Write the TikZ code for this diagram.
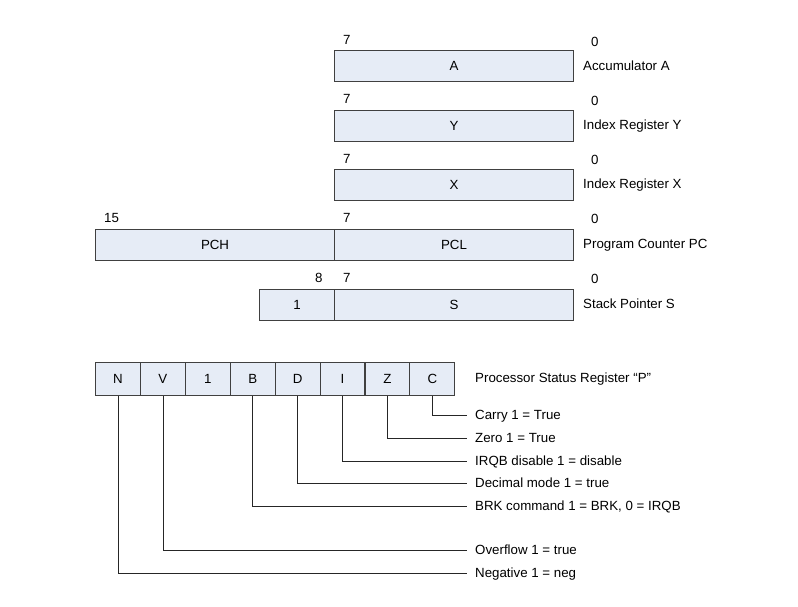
\documentclass[tikz,border=0pt]{standalone}
\usepackage{fontspec}
\setmainfont{Liberation Sans}
\definecolor{regfill}{HTML}{E6ECF6}
\definecolor{regline}{HTML}{404040}
\begin{document}
\begin{tikzpicture}[x=1pt,y=-1pt,
  every node/.style={font=\fontsize{13.3}{15}\selectfont},
  reg/.style={draw=regline, line width=1.1pt, fill=regfill, inner sep=0pt,
    minimum height=31pt, anchor=north west},
  bit/.style={reg, minimum width=44.9pt, minimum height=33pt},
  bitnum/.style={inner sep=0pt, anchor=west},
  regname/.style={inner sep=0pt, anchor=west},
  flag/.style={inner xsep=8pt, inner ysep=0pt, text depth=0pt, anchor=west},
  lead/.style={draw=black!85, line width=0.8pt}]
	%%%%% START %%%%%
	\useasboundingbox (0,0) rectangle (798,606);
	
	% 8 bit registers
	\node[reg, minimum width=239pt] (A) at (334,50) {A};
	\node[bitnum] (a7) at (343,40) {7};
	\node[bitnum] (a0) at (591,42) {0};
	\node[regname] (accA) at (583,66) {Accumulator A};
	
	\node[reg, minimum width=239pt] (Y) at (334,110) {Y};
	\node[bitnum] (y7) at (343,99) {7};
	\node[bitnum] (y0) at (591,101) {0};
	\node[regname] (idxY) at (583,126) {Index Register Y};
	
	\node[reg, minimum width=239pt] (X) at (334,169) {X};
	\node[bitnum] (x7) at (343,159) {7};
	\node[bitnum] (x0) at (591,160) {0};
	\node[regname] (idxX) at (583,185) {Index Register X};
	
	% program counter
	\node[reg, minimum width=239pt] (PCH) at (95,229) {PCH};
	\node[reg, minimum width=239pt] (PCL) at (334,229) {PCL};
	\node[bitnum] (pc15) at (104,218) {15};
	\node[bitnum] (pc7) at (343,218) {7};
	\node[bitnum] (pc0) at (591,219) {0};
	\node[regname] (pc) at (583,245) {Program Counter PC};
	
	% stack pointer
	\node[reg, minimum width=75pt] (SH) at (259,289) {1};
	\node[reg, minimum width=239pt] (S) at (334,289) {S};
	\node[bitnum] (s8) at (315,278) {8};
	\node[bitnum] (s7) at (343,278) {7};
	\node[bitnum] (s0) at (591,279) {0};
	\node[regname] (sp) at (583,304) {Stack Pointer S};
	
	% status register
	\foreach \b [count=\i] in {N,V,1,B,D,I,Z,C}
		\node[bit] (p\i) at ({95+(\i-1)*44.9},362) {\b};
	\node[regname] (psr) at (475,379) {Processor Status Register “P”};
	
	\node[flag] (carry) at (467,415) {Carry 1 = True};
	\node[flag] (zero) at (467,438) {Zero 1 = True};
	\node[flag] (irqb) at (467,461) {IRQB disable 1 = disable};
	\node[flag] (dec) at (467,483) {Decimal mode 1 = true};
	\node[flag] (brk) at (467,506) {BRK command 1 = BRK, 0 = IRQB};
	\node[flag] (ovf) at (467,550) {Overflow 1 = true};
	\node[flag] (neg) at (467,573) {Negative 1 = neg};
	
	\draw[lead] (p8.south) |- (carry.west);
	\draw[lead] (p7.south) |- (zero.west);
	\draw[lead] (p6.south) |- (irqb.west);
	\draw[lead] (p5.south) |- (dec.west);
	\draw[lead] (p4.south) |- (brk.west);
	\draw[lead] (p2.south) |- (ovf.west);
	\draw[lead] (p1.south) |- (neg.west);
	
	%%%%% END %%%%%
\end{tikzpicture}
\end{document}
